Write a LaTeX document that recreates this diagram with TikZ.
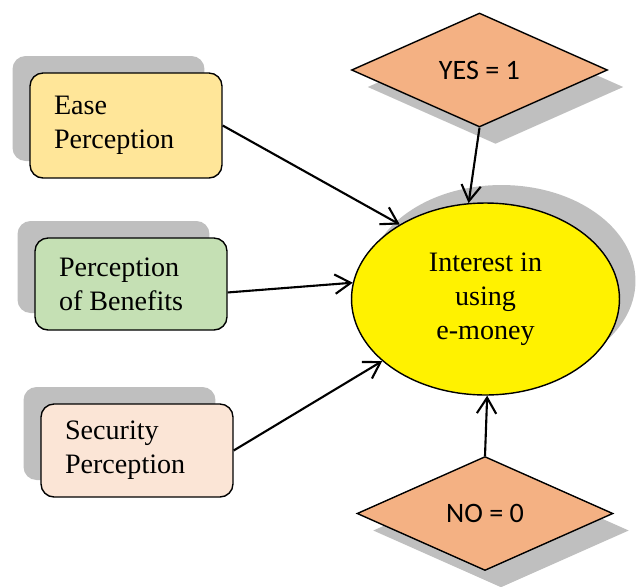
\documentclass[tikz,border=0pt]{standalone}
\usepackage{fontspec}
\setmainfont{Liberation Serif}
\newfontfamily\calibrifont{Carlito}
\usetikzlibrary{shapes.geometric,shadows,arrows.meta}

\definecolor{easeyellow}{HTML}{FFE699}
\definecolor{benefitgreen}{HTML}{C5E0B4}
\definecolor{securitypink}{HTML}{FBE5D6}
\definecolor{outcomeorange}{HTML}{F4B183}

\tikzset{
    factor/.style={rectangle, draw, line width=0.8pt, rounded corners=0.26cm,
        minimum width=3.84cm, text width=2.88cm, inner xsep=0.48cm, align=flush left,
        font=\fontsize{16}{19.5}\selectfont,
        drop shadow={shadow xshift=-0.35cm, shadow yshift=0.34cm, fill=gray!50, opacity=1}},
    outcome/.style={diamond, draw, line width=0.8pt, fill=outcomeorange, aspect=2.24,
        minimum width=5.12cm, minimum height=2.28cm, inner sep=0pt,
        font=\calibrifont\fontsize{16}{19}\selectfont,
        drop shadow={shadow xshift=0.32cm, shadow yshift=-0.34cm, fill=gray!50, opacity=1}},
    link/.style={-{Straight Barb[length=9pt,width=11pt]}, line width=1.2pt}
}

\begin{document}
\begin{tikzpicture}[x=0.02cm, y=-0.02cm]
    \useasboundingbox (0,0) rectangle (636,586);

    % Factores
    \node[factor, fill=easeyellow, minimum height=2.1cm] (ease) at (126,125.5) {Ease\\Perception};
    \node[factor, fill=benefitgreen, minimum height=1.84cm] (benefits) at (131,284) {Perception\\of Benefits};
    \node[factor, fill=securitypink, minimum height=1.86cm] (security) at (137,450.5) {Security\\Perception};

    % Variable dependiente
    \node[ellipse, draw, line width=0.8pt, fill=yellow, minimum width=5.36cm, minimum height=3.84cm,
        inner sep=0pt, align=center, font=\fontsize{16}{19.5}\selectfont,
        drop shadow={shadow xshift=0.32cm, shadow yshift=0.36cm, fill=gray!50, opacity=1}]
        (interest) at (485.5,299) {Interest in\\using\\e-money};

    % Valores
    \node[outcome] (yes) at (479.5,70) {YES = 1};
    \node[outcome] (no) at (485,513.5) {NO = 0};

    % Flechas
    \draw[link] (ease.east) -- (interest.139);
    \draw[link] (benefits.-5) -- (interest.173);
    \draw[link] (security.east) -- (interest.211);
    \draw[link] (yes.south) -- (interest.100);
    \draw[link] (no.north) -- (interest.271);
\end{tikzpicture}
\end{document}
